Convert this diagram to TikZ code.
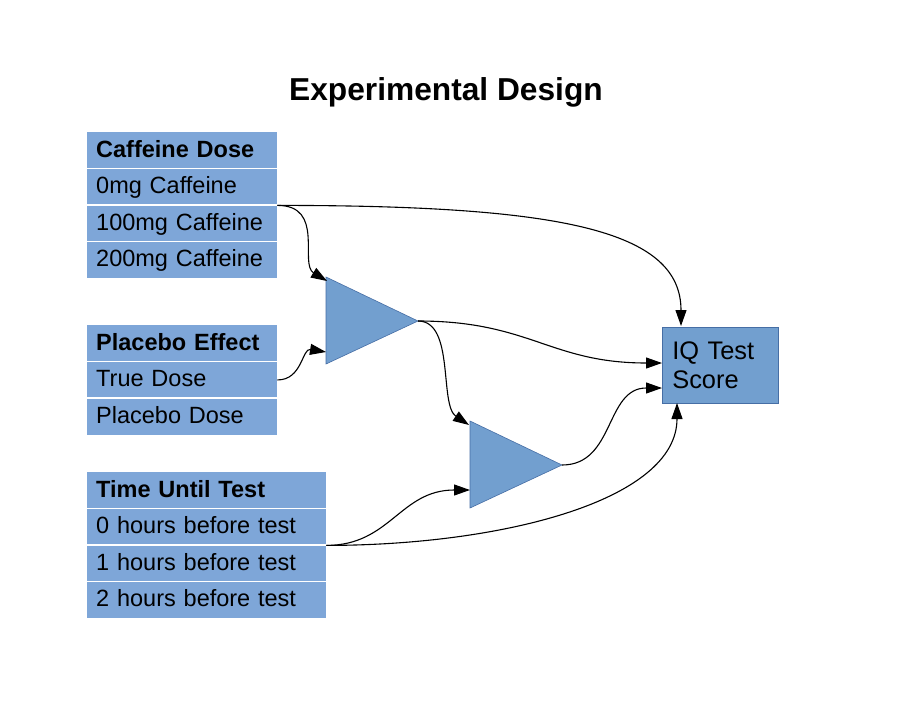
\documentclass[tikz,border=0pt]{standalone}
\usepackage{fontspec}
\setmainfont{Liberation Sans}
\usetikzlibrary{arrows.meta}
\definecolor{cellblue}{RGB}{126,166,216}
\definecolor{shapeblue}{RGB}{114,159,207}
\definecolor{shapeline}{RGB}{70,110,165}
\tikzset{
  cell/.style={rectangle, fill=cellblue, draw=none, anchor=north west,
    minimum width=#1, minimum height=36.5pt, inner sep=0pt,
    text width=#1-18pt, inner xsep=9pt, align=left,
    text height=16.9pt, text depth=3pt,
    font=\fontsize{23.5}{28}\selectfont},
  cell/.default=190pt,
  headcell/.style={cell=#1, font=\fontsize{23.5}{28}\selectfont\bfseries},
  headcell/.default=190pt,
  sepline/.style={draw=white, line width=1.5pt},
  tri/.style={fill=shapeblue, draw=shapeline, line width=0.6pt},
  conn/.style={draw=black, line width=1.1pt, -{Triangle[length=16pt,width=11pt]}}
}
\begin{document}
\begin{tikzpicture}[x=1pt,y=-1pt]
\useasboundingbox (0,0) rectangle (912,720);
\fill[white] (0,0) rectangle (912,720);
% title
\node (title) [anchor=base, font=\fontsize{31.7}{36}\selectfont\bfseries] at (446,100) {Experimental Design};
% caffeine table
\node (cafH) [headcell] at (87,132) {Caffeine Dose};
\node (caf0) [cell] at (87,168.5) {0mg Caffeine};
\node (caf1) [cell] at (87,205) {100mg Caffeine};
\node (caf2) [cell] at (87,241.5) {200mg Caffeine};
\draw[sepline] (caf0.north west) -- (caf0.north east);
\draw[sepline] (caf1.north west) -- (caf1.north east);
\draw[sepline] (caf2.north west) -- (caf2.north east);
% placebo table
\node (plH) [headcell] at (87,325) {Placebo Effect};
\node (plT) [cell] at (87,361.5) {True Dose};
\node (plP) [cell] at (87,398) {Placebo Dose};
\draw[sepline] (plT.north west) -- (plT.north east);
\draw[sepline] (plP.north west) -- (plP.north east);
% time table
\node (tH) [headcell=239pt] at (87,472) {Time Until Test};
\node (t0) [cell=239pt] at (87,508.5) {0 hours before test};
\node (t1) [cell=239pt] at (87,545) {1 hours before test};
\node (t2) [cell=239pt] at (87,581.5) {2 hours before test};
\draw[sepline] (t0.north west) -- (t0.north east);
\draw[sepline] (t1.north west) -- (t1.north east);
\draw[sepline] (t2.north west) -- (t2.north east);
% triangles
\coordinate (tri1a) at (326,277);
\coordinate (tri1b) at (326,364);
\coordinate (tri1tip) at (418,321);
\coordinate (tri1in1) at (327,281);
\coordinate (tri1in2) at (326,352);
\draw[tri] (tri1a) -- (tri1tip) -- (tri1b) -- cycle;
\coordinate (tri2a) at (470,421);
\coordinate (tri2b) at (470,508);
\coordinate (tri2tip) at (562,465);
\coordinate (tri2in1) at (469,425);
\coordinate (tri2in2) at (470,490);
\draw[tri] (tri2a) -- (tri2tip) -- (tri2b) -- cycle;
% IQ box
\node (iq) [rectangle, anchor=north west, fill=shapeblue, draw=shapeline, line width=0.6pt,
  minimum width=116pt, minimum height=76pt, inner sep=0pt, inner xsep=10pt,
  text width=96pt, align=left, font=\fontsize{25.4}{29}\selectfont] at (662,327) {IQ Test\\Score};
\coordinate (iqtop) at (681,326);
\coordinate (iqbot) at (677,403);
\coordinate (iql1) at (662,363);
\coordinate (iql2) at (662,388);
% connectors
\draw[conn] (caf0.south east) .. controls +(283,0) and +(0,-96) .. (iqtop);
\draw[conn] (caf0.south east) .. controls +(48,0) and +(-28,-17) .. (tri1in1);
\draw[conn] (plT.east) .. controls +(25,0) and +(-24,-4) .. (tri1in2);
\draw[conn] (tri1tip) .. controls +(112,0) and +(-112,0) .. (iql1);
\draw[conn] (tri1tip) .. controls +(37,0) and +(-30,-20) .. (tri2in1);
\draw[conn] (t0.south east) .. controls +(64,0) and +(-70,0) .. (tri2in2);
\draw[conn] (t0.south east) .. controls +(174,0) and +(0,98) .. (iqbot);
\draw[conn] (tri2tip) .. controls +(53,0) and +(-57,0) .. (iql2);
\end{tikzpicture}
\end{document}
